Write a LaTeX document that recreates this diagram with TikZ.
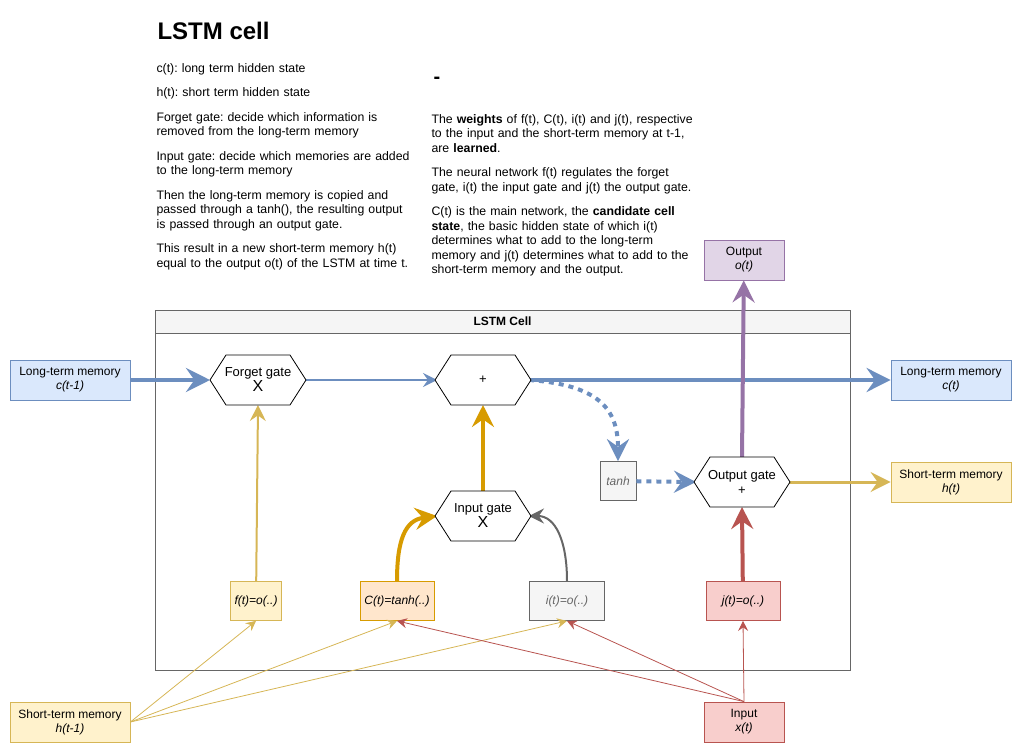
\documentclass[tikz,border=0pt]{standalone}
\usepackage{fontspec}
\setmainfont{Liberation Sans}
\usetikzlibrary{shapes.geometric,arrows.meta}
\definecolor{bluef}{HTML}{DAE8FC}\definecolor{blues}{HTML}{6C8EBF}
\definecolor{yelf}{HTML}{FFF2CC}\definecolor{yels}{HTML}{D6B656}
\definecolor{redf}{HTML}{F8CECC}\definecolor{reds}{HTML}{B85450}
\definecolor{purf}{HTML}{E1D5E7}\definecolor{purs}{HTML}{9673A6}
\definecolor{grf}{HTML}{F5F5F5}\definecolor{grs}{HTML}{666666}
\definecolor{orf}{HTML}{FFE6CC}\definecolor{ors}{HTML}{D79B00}
\frenchspacing
\begin{document}
\hyphenpenalty=10000\relax
\begin{tikzpicture}[x=1pt,y=-1pt,
 box/.style={draw=#1s,fill=#1f,line width=0.8pt,minimum width=120pt,minimum height=40pt,align=center,font=\fontsize{12}{14}\selectfont,inner sep=1pt},
 tip/.style={-{Stealth[length=#1,width=#1,inset=0.35*#1]}},
 txt/.style={anchor=north west,align=left,text width=262pt,font=\fontsize{12.3}{14.5}\selectfont}]
\useasboundingbox (0,0) rectangle (1021,752);
\node[anchor=west,font=\fontsize{24}{28}\selectfont\bfseries] (title) at (154,31) {LSTM cell};
\node[txt] (lt) at (153,60) {c(t): long term hidden state\\[10pt]
h(t): short term hidden state\\[10pt]
Forget gate: decide which information is removed from the long-term memory\\[10pt]
Input gate: decide which memories are added to the long-term memory\\[10pt]
Then the long-term memory is copied and passed through a tanh(), the resulting output is passed through an output gate.\\[10pt]
This result in a new short-term memory h(t) equal to the output o(t) of the LSTM at time t.};
\node[anchor=west,font=\fontsize{20}{22}\selectfont\bfseries] (dash) at (430,80) {-};
\node[txt,text width=266pt] (rt) at (428,111) {The \textbf{weights} of f(t), C(t), i(t) and j(t), respective to the input and the short-term memory at t-1, are \textbf{learned}.\\[10pt]
The neural network f(t) regulates the forget gate, i(t) the input gate and j(t) the output gate.\\[10pt]
C(t) is the main network, the \textbf{candidate cell state}, the basic hidden state of which i(t) determines what to add to the long-term memory and j(t) determines what to add to the short-term memory and the output.};
% container
\draw[draw=grs,line width=0.6pt] (155,310) rectangle (850,670);
\draw[draw=grs,fill=grf,line width=0.6pt] (155,310) rectangle (850,333);
\node[font=\fontsize{12}{14}\selectfont\bfseries] (cellt) at (502.5,321.5) {LSTM Cell};
\newcommand{\hexa}[4]{\draw[line width=0.8pt,fill=white] (#1-48,#2) -- (#1-32,#2-25) -- (#1+32,#2-25) -- (#1+48,#2) -- (#1+32,#2+25) -- (#1-32,#2+25) -- cycle;
\node[align=center,font=\fontsize{13}{15}\selectfont] (#3) at (#1,#2) {#4};}
\coordinate (fgW) at (210,380); \coordinate (fgE) at (306,380); \coordinate (fgS) at (258,405);
\coordinate (plW) at (437,380); \coordinate (plE) at (529,380); \coordinate (plS) at (483,405);
\coordinate (igW) at (437,516); \coordinate (igE) at (529,516); \coordinate (igN) at (483,491);
\coordinate (ogW) at (696,482); \coordinate (ogE) at (788,482); \coordinate (ogN) at (742,457); \coordinate (ogS) at (742,507);
% boxes
\node[box=blue] (c0) at (70,380) {Long-term memory\\\textit{c(t-1)}};
\node[box=blue] (c1) at (951,380) {Long-term memory\\\textit{c(t)}};
\node[box=pur,minimum width=80pt] (o) at (744,260) {Output\\\textit{o(t)}};
\node[box=yel] (h1) at (951,482) {Short-term memory\\\textit{h(t)}};
\node[box=yel] (h0) at (70,722) {Short-term memory\\\textit{h(t-1)}};
\node[box=red,minimum width=80pt] (x) at (744,722) {Input\\\textit{x(t)}};
\node[box=gr,minimum width=36pt,minimum height=39pt,text=grs] (tanh) at (618,481) {\textit{tanh}};
\node[box=yel,minimum width=51pt,minimum height=39pt] (f) at (256,601) {\textit{f(t)=o(..)}};
\node[box=or,minimum width=74pt,minimum height=39pt] (C) at (397,601) {\textit{C(t)=tanh(..)}};
\node[box=gr,minimum width=75pt,minimum height=39pt,text=grs] (i) at (567,601) {\textit{i(t)=o(..)}};
\node[box=red,minimum width=74pt,minimum height=39pt] (j) at (743,601) {\textit{j(t)=o(..)}};
% connectors
\draw[blues,line width=4pt,tip=24pt] (c0) -- (fgW);
\draw[blues,line width=2pt,tip=14pt] (fgE) -- (plW);
\draw[blues,line width=4pt,tip=24pt] (plE) -- (c1);
\draw[blues,line width=4pt,dash pattern=on 5pt off 5pt,tip=22pt] (plE) .. controls (600,385) and (618,410) .. (tanh.north);
\draw[blues,line width=4pt,dash pattern=on 5pt off 5pt,tip=22pt] (tanh) -- (ogW);
\draw[purs,line width=4pt,tip=22pt] (ogN) -- (o);
\draw[yels,line width=3pt,tip=20pt] (ogE) -- (h1);
\draw[yels,line width=2pt,tip=16pt] (f) -- (fgS);
\draw[ors,line width=4pt,tip=22pt] (C.north) .. controls (397,540) and (405,520) .. (igW);
\draw[grs,line width=2pt,tip=15pt] (i.north) .. controls (567,540) and (555,516) .. (igE);
\draw[ors,line width=4pt,tip=22pt] (igN) -- (plS);
\draw[reds,line width=4pt,tip=22pt] (j) -- (ogS);
\hexa{258}{380}{fg}{Forget gate\\{\fontsize{16}{18}\selectfont X}}
\hexa{483}{380}{pl}{+}
\hexa{483}{516}{ig}{Input gate\\{\fontsize{16}{18}\selectfont X}}
\hexa{742}{482}{og}{Output gate\\+}
\foreach \t in {f,C,i} \draw[yels,line width=0.8pt,tip=10pt] (h0.east) -- (\t.south);
\foreach \t in {C,i,j} \draw[reds,line width=0.8pt,tip=10pt] (x.north) -- (\t.south);
\end{tikzpicture}
\end{document}
